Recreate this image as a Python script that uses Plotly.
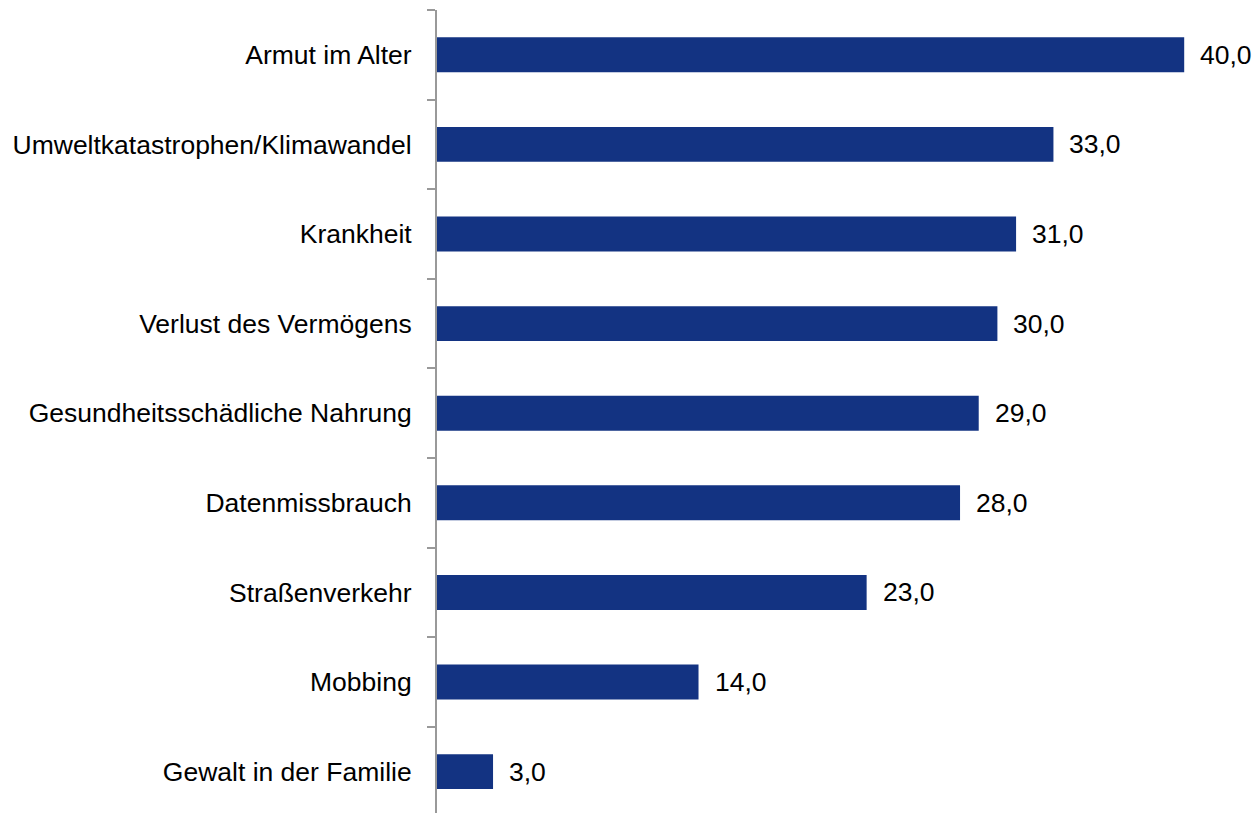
import plotly.graph_objects as go

categories = ["Gewalt in der Familie", "Mobbing", "Straßenverkehr", "Datenmissbrauch",
              "Gesundheitsschädliche Nahrung", "Verlust des Vermögens", "Krankheit",
              "Umweltkatastrophen/Klimawandel", "Armut im Alter"]
values = [3.0, 14.0, 23.0, 28.0, 29.0, 30.0, 31.0, 33.0, 40.0]

bar_color = "#133382"
font_family = "Liberation Sans, Arial, sans-serif"
fsize = 26.5

fig = go.Figure(go.Bar(
    x=values, y=categories, orientation="h",
    marker=dict(color=bar_color, line=dict(width=0)),
    width=0.39,
))

for v, c in zip(values, categories):
    fig.add_annotation(x=v, y=c, text=f"{v:.1f}".replace(".", ","), showarrow=False,
                       xanchor="left", xshift=14, yshift=0,
                       font=dict(size=fsize, color="black", family=font_family))

fig.update_layout(
    width=1255, height=813,
    margin=dict(l=437, r=0, t=10, b=0),
    plot_bgcolor="white", paper_bgcolor="white",
    showlegend=False,
    separators=",.",
    font=dict(family=font_family, size=fsize, color="black"),
    xaxis=dict(range=[0, 43.79], visible=False, showgrid=False, zeroline=False),
    yaxis=dict(type="category", categoryorder="array", categoryarray=categories,
               range=[-0.462, 8.5], showline=True, linecolor="#999999", linewidth=2,
               ticks="outside", tickson="boundaries", ticklen=8, tickcolor="#999999",
               tickwidth=2, showgrid=False, ticklabelstandoff=18,
               tickfont=dict(size=fsize, color="black", family=font_family)),
)

fig.write_html("out.html")
